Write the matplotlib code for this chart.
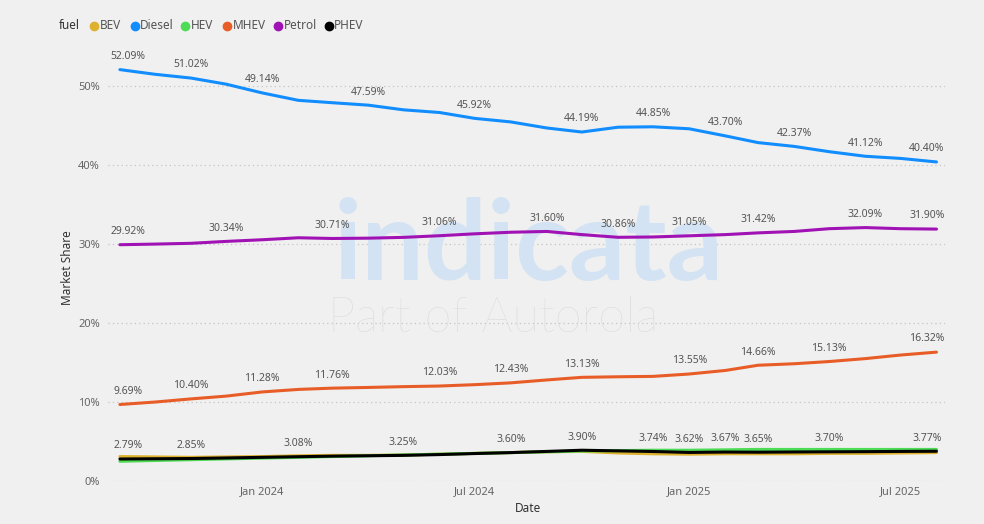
import matplotlib
matplotlib.use("Agg")
import matplotlib.pyplot as plt
import matplotlib.dates as mdates
from matplotlib.lines import Line2D
import pandas as pd

plt.rcParams['font.family'] = ['Noto Sans', 'DejaVu Sans']

# ---- data ----
dates = pd.date_range('2023-09-01', periods=24, freq='MS')
series_names = ['BEV', 'Diesel', 'HEV', 'MHEV', 'Petrol', 'PHEV']
diesel = [52.09, 51.5, 51.02, 50.25, 49.14, 48.2, 47.9, 47.59, 47.0, 46.66, 45.92, 45.47,
          44.7, 44.19, 44.8, 44.85, 44.6, 43.70, 42.85, 42.37, 41.7, 41.12, 40.85, 40.40]
petrol = [29.92, 30.0, 30.1, 30.34, 30.55, 30.8, 30.71, 30.75, 30.85, 31.06, 31.3, 31.5,
          31.60, 31.2, 30.86, 30.9, 31.05, 31.2, 31.42, 31.6, 31.95, 32.09, 31.95, 31.90]
mhev = [9.69, 10.0, 10.40, 10.75, 11.28, 11.6, 11.76, 11.85, 11.95, 12.03, 12.2, 12.43,
        12.8, 13.13, 13.2, 13.25, 13.55, 14.0, 14.66, 14.85, 15.13, 15.5, 15.95, 16.32]
bev = [3.1, 3.05, 3.0, 3.05, 3.1, 3.2, 3.25, 3.25, 3.3, 3.4, 3.5, 3.6,
       3.7, 3.75, 3.55, 3.45, 3.4, 3.45, 3.45, 3.45, 3.5, 3.5, 3.55, 3.6]
hev = [2.5, 2.6, 2.7, 2.8, 2.9, 3.0, 3.1, 3.2, 3.3, 3.4, 3.5, 3.6,
       3.7, 3.8, 3.85, 3.9, 3.9, 3.95, 4.0, 4.0, 4.0, 4.0, 4.0, 4.0]
phev = [2.79, 2.82, 2.85, 2.92, 3.0, 3.08, 3.15, 3.2, 3.25, 3.35, 3.48, 3.60,
        3.75, 3.90, 3.82, 3.74, 3.62, 3.67, 3.65, 3.68, 3.70, 3.72, 3.75, 3.77]

# indices of points that carry a data label
diesel_lbl = [0, 2, 4, 7, 10, 13, 15, 17, 19, 21, 23]
petrol_lbl = [0, 3, 6, 9, 12, 14, 16, 18, 21, 23]
mhev_lbl = [0, 2, 4, 6, 9, 11, 13, 16, 18, 20, 23]
phev_lbl = [0, 2, 5, 8, 11, 13, 15, 16, 17, 18, 20, 23]

y_ticks = [0, 10, 20, 30, 40, 50]
x_tick_dates = ['2024-01-01', '2024-07-01', '2025-01-01', '2025-07-01']

colors = {'BEV': '#DDB22E', 'Diesel': '#118DFF', 'HEV': '#4EDB55',
          'MHEV': '#E85D27', 'Petrol': '#A012B4', 'PHEV': '#000000'}

# ---- figure ----
bg = '#F0F0F0'
fig = plt.figure(figsize=(9.84, 5.24), dpi=100, facecolor=bg)
ax = fig.add_axes([0.110, 0.082, 0.850, 0.829], facecolor=bg)

# watermark (behind the data, inside the axes)
ax.text(0.537, 0.466, 'indicata', fontsize=80, fontweight='bold', color='#D3E3F3',
        ha='center', va='baseline', family=['Lato', 'DejaVu Sans'], zorder=1,
        transform=fig.transFigure)
ax.text(0.501, 0.366, 'Part of Autorola', fontsize=35, fontweight='light', color='#D8D8D8',
        ha='center', va='baseline', family=['Lato', 'DejaVu Sans'], zorder=1,
        transform=fig.transFigure)

lw = 2.2
ax.plot(dates, diesel, color=colors['Diesel'], lw=lw, solid_capstyle='round', zorder=3)
ax.plot(dates, petrol, color=colors['Petrol'], lw=lw, solid_capstyle='round', zorder=3)
ax.plot(dates, mhev, color=colors['MHEV'], lw=lw, solid_capstyle='round', zorder=3)
ax.plot(dates, bev, color=colors['BEV'], lw=lw, solid_capstyle='round', zorder=3)
ax.plot(dates, hev, color=colors['HEV'], lw=lw, solid_capstyle='round', zorder=3)
ax.plot(dates, phev, color=colors['PHEV'], lw=lw, solid_capstyle='round', zorder=4)

def add_labels(vals, idx):
    n = len(vals)
    for i in idx:
        dx = 0
        if i == 0:
            dx = 6
        elif i == n - 1:
            dx = -7
        ax.annotate(f'{vals[i]:.2f}%', (dates[i], vals[i]), xytext=(dx, 5.5),
                    textcoords='offset points', ha='center', va='bottom',
                    fontsize=7.5, color='#555555', zorder=5)

add_labels(diesel, diesel_lbl)
add_labels(petrol, petrol_lbl)
add_labels(mhev, mhev_lbl)
add_labels(phev, phev_lbl)

ax.set_ylim(0, 55)
ax.set_yticks(y_ticks)
ax.set_yticklabels([f'{t}%' for t in y_ticks])
ax.set_xlim(pd.Timestamp('2023-08-22'), pd.Timestamp('2025-08-08'))
ax.set_xticks([pd.Timestamp(d) for d in x_tick_dates])
ax.xaxis.set_major_formatter(mdates.DateFormatter('%b %Y'))

ax.grid(axis='y', linestyle=(0, (1, 2.5)), color='#C4C4C4', lw=0.9)
ax.grid(axis='x', visible=False)
ax.set_axisbelow(True)
for s in ax.spines.values():
    s.set_visible(False)
ax.tick_params(axis='both', length=0, colors='#666666', labelsize=8)
ax.tick_params(axis='y', pad=6)
ax.tick_params(axis='x', pad=4)

fig.text(0.069, 0.49, 'Market Share', rotation=90, ha='center', va='center',
         fontsize=8.5, fontweight='semibold', color='#333333')
fig.text(0.537, 0.029, 'Date', ha='center', va='center',
         fontsize=8.5, fontweight='semibold', color='#333333')

# legend
ly = 0.951
fig.text(0.060, ly, 'fuel', ha='left', va='center', fontsize=8.5,
         fontweight='bold', color='#333333')
leg_x = [0.0955, 0.137, 0.188, 0.231, 0.283, 0.334]
for name, x in zip(series_names, leg_x):
    fig.add_artist(Line2D([x], [ly], transform=fig.transFigure, marker='o',
                          markersize=6, color=colors[name], linestyle='none'))
    fig.text(x + 0.0055, ly, name, ha='left', va='center', fontsize=8.5, color='#555555')

fig.savefig('out.png', dpi=100, facecolor=bg)
